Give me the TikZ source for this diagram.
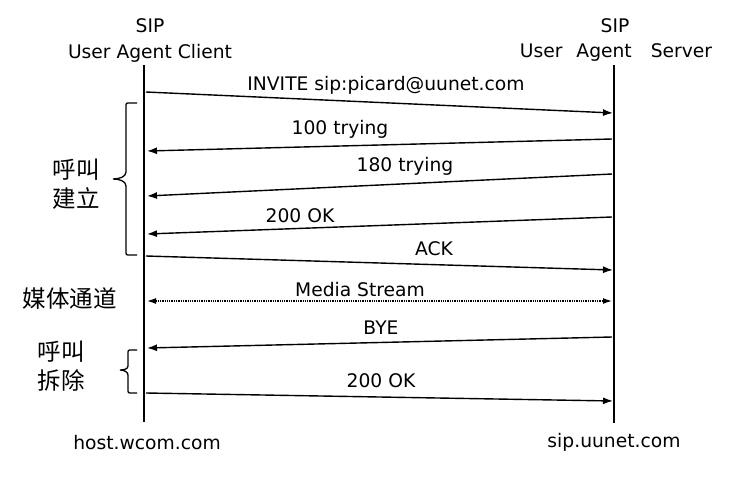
\documentclass[tikz,border=0pt]{standalone}
\usepackage{fontspec}
\setmainfont{DejaVu Sans}
\newfontfamily\cjk{Noto Sans CJK SC}
\usetikzlibrary{arrows.meta}

\tikzset{
  msg/.style={line width=1.4pt,-{Latex[length=10pt,width=7pt]}},
  media/.style={line width=1.3pt,densely dotted,{Latex[length=9pt,width=6pt]}-{Latex[length=9pt,width=6pt]}},
  life/.style={line width=2.4pt},
  lbl/.style={inner sep=0pt,font=\fontsize{18.7}{22}\selectfont},
  zh/.style={inner sep=0pt,align=center,font=\cjk\fontsize{23.5}{29}\selectfont},
  grp/.style={line width=1.3pt}
}

\begin{document}
\begin{tikzpicture}[x=1pt,y=-1pt]
\useasboundingbox[fill=white] (0,0) rectangle (744,479);
% lifelines
\coordinate (c0) at (144,65);
\coordinate (c1) at (144,422);
\coordinate (s0) at (614,65);
\coordinate (s1) at (614,423);
\draw[life] (c0) -- (c1);
\draw[life] (s0) -- (s1);
% headers and hosts
\node[lbl] (sipc) at (150,26) {SIP};
\node[lbl] (uac) at (150,53) {User Agent Client};
\node[lbl] (sips) at (615,26) {SIP};
\node[lbl] (uas) at (616,53) {User\hspace{14pt}Agent\hspace{19pt}Server};
\node[lbl] (hc) at (147,443) {host.wcom.com};
\node[lbl] (hs) at (614,442) {sip.uunet.com};
% requests (client -> server)
\foreach \m/\ya/\yb in {inv/92/113, ack/256/270, ok2/393/401}
{
  \coordinate (\m-c) at (146,\ya);
  \coordinate (\m-s) at (613,\yb);
  \draw[msg] (\m-c) -- (\m-s);
}
% responses (server -> client)
\foreach \m/\ya/\yb in {t100/151/139, t180/196/174, ok1/234/217, bye/348/337}
{
  \coordinate (\m-c) at (147,\ya);
  \coordinate (\m-s) at (612,\yb);
  \draw[msg] (\m-s) -- (\m-c);
}
\coordinate (m-c) at (147,301);
\coordinate (m-s) at (612,301);
\draw[media] (m-c) -- (m-s);
% message labels
\node[lbl] (linv) at (386,85) {INVITE sip:picard@uunet.com};
\node[lbl] (lt100) at (340,129) {100 trying};
\node[lbl] (lt180) at (405,166) {180 trying};
\node[lbl] (lok1) at (300,216) {200 OK};
\node[lbl] (lack) at (434,249) {ACK};
\node[lbl] (lm) at (360,290) {Media Stream};
\node[lbl] (lbye) at (381,328) {BYE};
\node[lbl] (lok2) at (381,381) {200 OK};
% phases
\draw[grp] (137,103) -- (130,103) .. controls (126,103) .. (126,107) -- (126,172)
  .. controls (126,177) and (119,179) .. (113,179)
  .. controls (119,179) and (126,181) .. (126,186) -- (126,251)
  .. controls (126,255) .. (130,255) -- (137,255);
\draw[grp] (137,350) -- (132,350) .. controls (128,350) .. (128,354) -- (128,366)
  .. controls (128,369) and (124,370) .. (120,370)
  .. controls (124,370) and (128,372) .. (128,375) -- (128,389)
  .. controls (128,393) .. (132,393) -- (137,393);
\node[zh] (setup) at (76,184) {呼叫\\建立};
\node[zh] (chan) at (70,299) {媒体通道};
\node[zh] (tear) at (61,366) {呼叫\\拆除};
\end{tikzpicture}
\end{document}
